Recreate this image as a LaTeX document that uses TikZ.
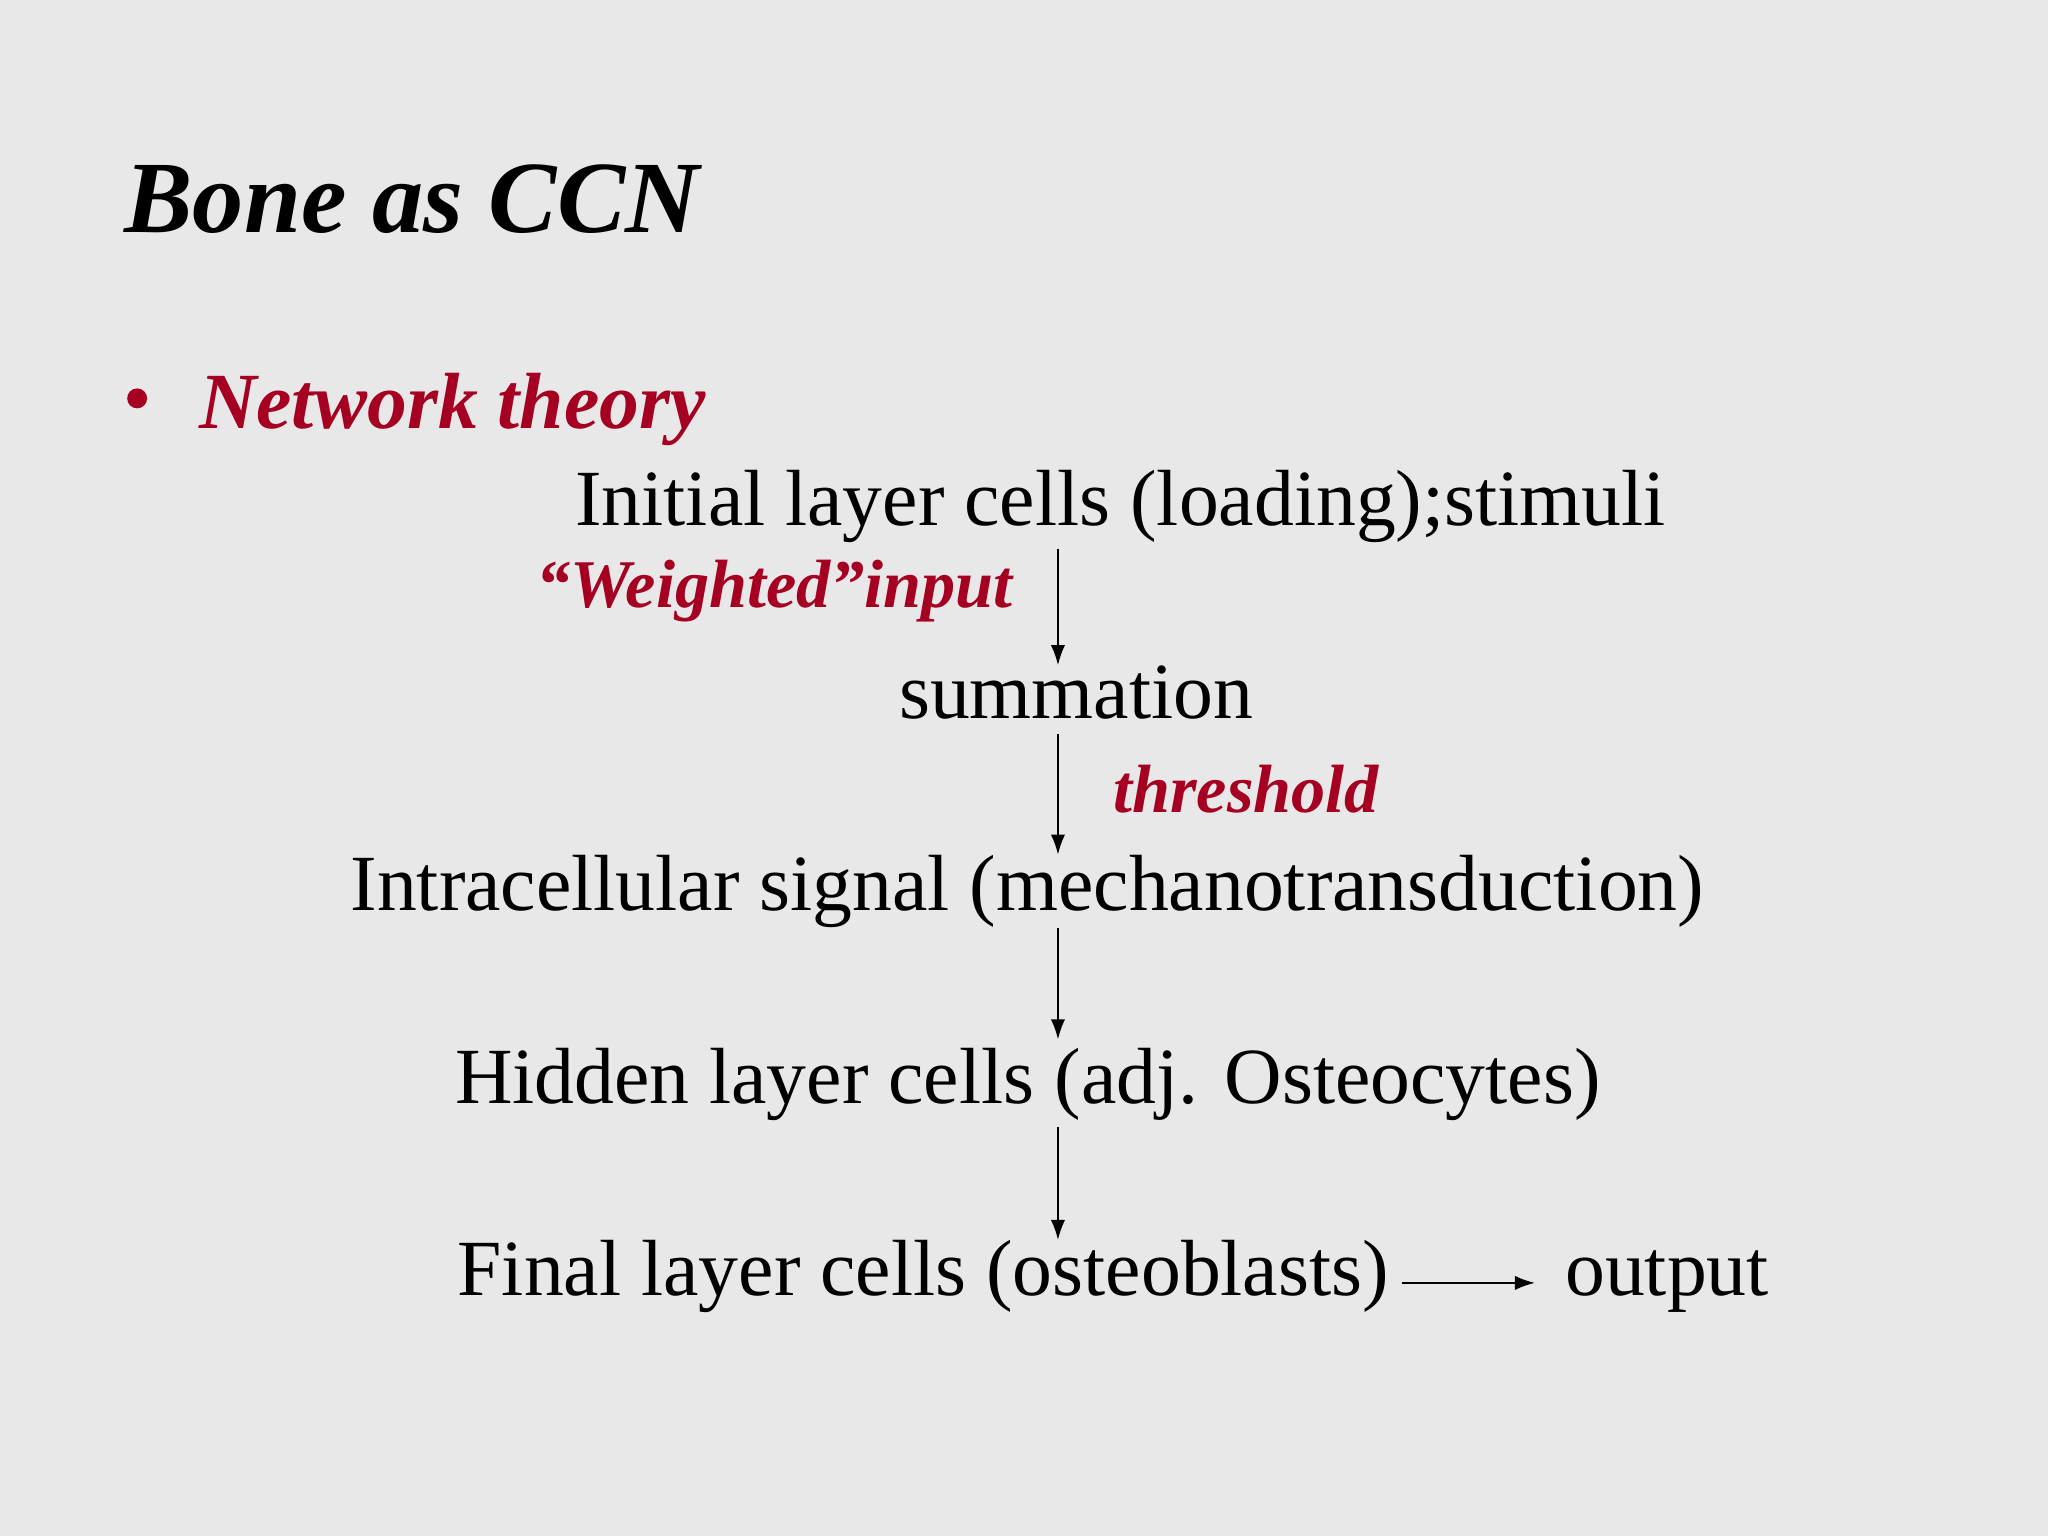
\documentclass[tikz,border=0pt]{standalone}
\usepackage{fontspec}
\setmainfont{Liberation Serif}
\usepackage{xcolor}
\usepackage{tikz}
\usetikzlibrary{arrows.meta}
\definecolor{slidered}{RGB}{165,0,33}
\definecolor{slidebg}{RGB}{233,232,232}
\tikzstyle{heading} = [anchor=base west, inner sep=0pt,
    font=\fontsize{36}{40}\selectfont\bfseries\itshape]
\tikzstyle{body} = [anchor=base west, inner sep=0pt,
    font=\fontsize{28}{32}\selectfont]
\tikzstyle{note} = [anchor=base west, inner sep=0pt, text=slidered,
    font=\fontsize{24}{28}\selectfont\bfseries\itshape]
\tikzstyle{dot} = [circle, fill=slidered, inner sep=0pt, minimum size=7pt]
\tikzstyle{line} = [draw, line width=0.6pt, -{Latex[length=7pt,width=5pt]}]

\begin{document}
\begin{tikzpicture}[x=0.4592pt, y=-0.4592pt]
    % Background
    \fill[slidebg] (0,0) rectangle (1568,1176);
    \useasboundingbox (0,0) rectangle (1568,1176);

    % Place nodes
    \node [heading] (title) at (95,178) {Bone as CCN};
    \node [dot] (bullet) at (105,305) {};
    \node [body, text=slidered, font=\fontsize{28}{32}\selectfont\bfseries\itshape]
        (theory) at (152,328) {Network theory};
    \node [body] (initial) at (440,402) {Initial layer cells (loading);stimuli};
    \node [note] (weighted) at (410,465) {“Weighted”input};
    \node [body] (summation) at (688,550) {summation};
    \node [note] (threshold) at (852,622) {threshold};
    \node [body] (intra) at (268,697) {Intracellular signal (mechanotransduction)};
    \node [body] (hidden) at (348,845) {Hidden layer cells (adj. Osteocytes)};
    \node [body] (final) at (350,992) {Final layer cells (osteoblasts)};
    \node [body] (output) at (1198,992) {output};
    \coordinate (axis) at (810,0);

    \path [line, shorten <=2pt] (initial.south -| axis) -- (summation.north -| axis);
    \path [line, shorten <=5pt] (summation.south -| axis) -- (intra.north -| axis);
    \path [line] (intra.south -| axis) -- ([yshift=3pt]hidden.north -| axis);
    \path [line] ([yshift=-2pt]hidden.south -| axis) -- (final.north -| axis);
    \path [line, shorten <=4.5pt, shorten >=10.5pt]
        ([yshift=4.5pt]final.base east) -- ([yshift=4.5pt]output.base west);
\end{tikzpicture}
\end{document}
